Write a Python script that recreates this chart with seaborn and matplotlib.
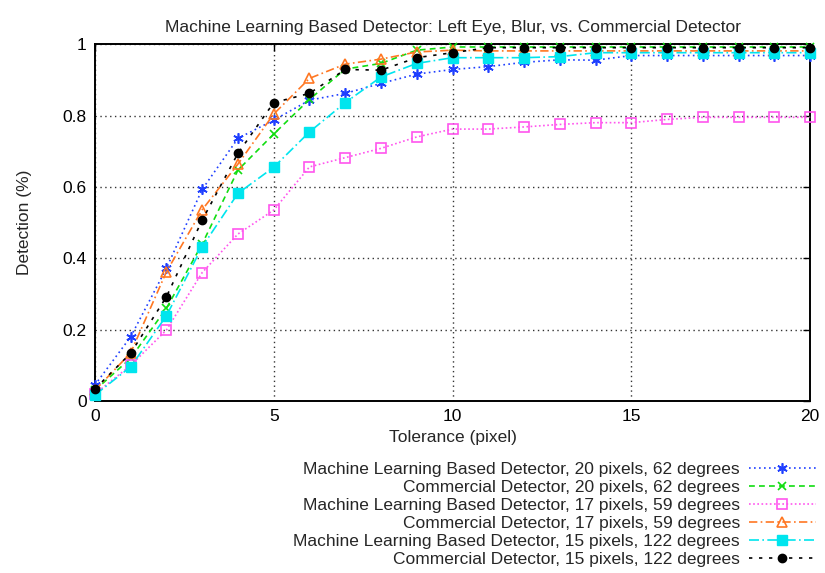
import matplotlib
matplotlib.use("Agg")
import matplotlib.pyplot as plt
import seaborn as sns
import pandas as pd

tolerance = list(range(0, 21))

ml_20 = [0.045, 0.18, 0.372, 0.593, 0.736, 0.787, 0.843, 0.862, 0.89, 0.916, 0.929,
         0.937, 0.949, 0.956, 0.955, 0.968, 0.968, 0.968, 0.968, 0.968, 0.968]
com_20 = [0.03, 0.12, 0.26, 0.44, 0.647, 0.748, 0.845, 0.93, 0.946, 0.983, 0.992,
          0.992, 0.992, 0.992, 0.992, 0.992, 0.992, 0.992, 0.992, 0.992, 0.992]
ml_17 = [0.02, 0.10, 0.199, 0.36, 0.468, 0.535, 0.656, 0.682, 0.708, 0.74, 0.762,
         0.762, 0.768, 0.775, 0.78, 0.78, 0.789, 0.795, 0.795, 0.795, 0.795]
com_17 = [0.03, 0.135, 0.362, 0.536, 0.664, 0.804, 0.904, 0.944, 0.958, 0.978, 0.983,
          0.981, 0.981, 0.981, 0.981, 0.981, 0.981, 0.981, 0.981, 0.981, 0.981]
ml_15 = [0.017, 0.096, 0.239, 0.432, 0.582, 0.655, 0.754, 0.836, 0.908, 0.946, 0.962,
         0.962, 0.962, 0.965, 0.976, 0.976, 0.976, 0.976, 0.976, 0.976, 0.976]
com_15 = [0.034, 0.134, 0.292, 0.507, 0.694, 0.836, 0.862, 0.929, 0.927, 0.962, 0.976,
          0.99, 0.99, 0.99, 0.99, 0.99, 0.99, 0.99, 0.99, 0.99, 0.99]

labels = [
    "Machine Learning Based Detector, 20 pixels, 62 degrees",
    "Commercial Detector, 20 pixels, 62 degrees",
    "Machine Learning Based Detector, 17 pixels, 59 degrees",
    "Commercial Detector, 17 pixels, 59 degrees",
    "Machine Learning Based Detector, 15 pixels, 122 degrees",
    "Commercial Detector, 15 pixels, 122 degrees",
]
series = [ml_20, com_20, ml_17, com_17, ml_15, com_15]

styles = [
    dict(color="#1f3fff", ls=(0, (1, 2)), marker=(6, 2, 0), ms=7.5, mfc="#1f3fff", mew=1.2),
    dict(color="#11dd11", ls=(0, (3.5, 2.5)), marker="x", ms=6, mfc="none", mew=1.2),
    dict(color="#ff55ee", ls=(0, (1, 1.5)), marker="s", ms=6.5, mfc="none", mew=1.2),
    dict(color="#ff7722", ls=(0, (5, 2, 1, 2)), marker="^", ms=7, mfc="none", mew=1.2),
    dict(color="#00e5ee", ls=(0, (6, 2, 1, 2)), marker="s", ms=6.5, mfc="#00e5ee", mew=1.0),
    dict(color="#000000", ls=(0, (2, 4)), marker="o", ms=6, mfc="#000000", mew=1.0),
]

sns.set_style("white")
plt.rcParams["font.family"] = ["Liberation Sans", "DejaVu Sans"]

fig = plt.figure(figsize=(8.25, 5.73), dpi=100)
ax = fig.add_axes([0.115, 0.300, 0.867, 0.623])

for lab, vals, st in zip(labels, series, styles):
    df = pd.DataFrame({"Tolerance": tolerance, "Detection": vals})
    sns.lineplot(data=df, x="Tolerance", y="Detection", ax=ax, label=lab,
                 color=st["color"], linestyle=st["ls"], linewidth=1.2,
                 marker=st["marker"], markersize=st["ms"],
                 markerfacecolor=st["mfc"], markeredgecolor=st["color"],
                 markeredgewidth=st["mew"], clip_on=False, zorder=3)

ax.set_xlim(0, 20)
ax.set_ylim(0, 1)
ax.set_xticks([0, 5, 10, 15, 20])
ax.set_yticks([0, 0.2, 0.4, 0.6, 0.8, 1.0])
ax.set_yticklabels(["0", "0.2", "0.4", "0.6", "0.8", "1"])
ax.tick_params(direction="in", length=5, width=1, top=True, right=True,
               labelsize=12.5, colors="black", pad=6)
ax.grid(True, color="#333333", linestyle=(0, (1, 2.5)), linewidth=1.0)
for s in ax.spines.values():
    s.set_color("black")
    s.set_linewidth(1.4)

ax.set_xlabel("Tolerance (pixel)", fontsize=12.5, labelpad=4)
ax.set_ylabel("Detection (%)", fontsize=12.5, labelpad=22)
ax.set_title("Machine Learning Based Detector: Left Eye, Blur, vs. Commercial Detector",
             fontsize=12.5, pad=9)

ax.get_legend().remove()
handles, labs = ax.get_legend_handles_labels()
fig.legend(handles, labs, loc="upper right", bbox_to_anchor=(1.0, 0.2085),
           frameon=False, markerfirst=False, fontsize=12.5, handlelength=3.9,
           handletextpad=0.5, labelspacing=0.165, borderpad=0.0)

fig.savefig("out.png", dpi=100)
